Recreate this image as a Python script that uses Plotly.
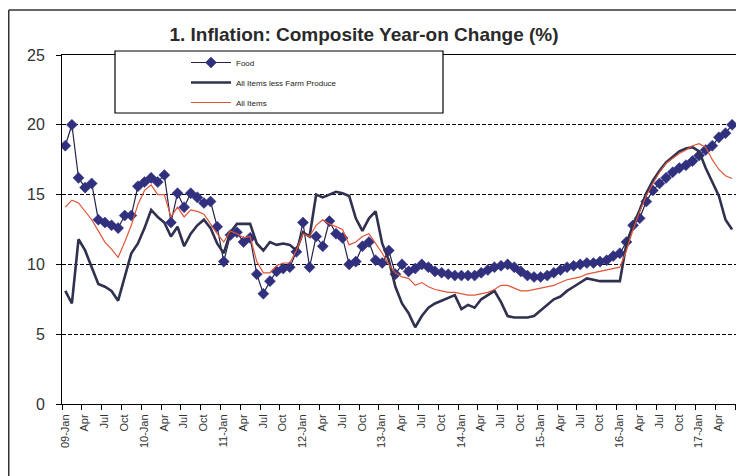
import plotly.graph_objects as go

# ---- data (Jan 2009 .. Jun 2017, monthly; axis runs to Jul 2017) ----
food = [18.5, 20.0, 16.2, 15.5, 15.8, 13.2, 13.0, 12.8, 12.6, 13.5, 13.5, 15.6,
        15.9, 16.2, 15.9, 16.4, 13.0, 15.1, 14.1, 15.1, 14.8, 14.4, 14.5, 12.7,
        10.2, 12.1, 12.3, 11.6, 11.9, 9.3, 7.9, 8.8, 9.5, 9.7, 9.8, 10.9,
        13.0, 9.8, 12.0, 11.3, 13.1, 12.2, 11.9, 10.0, 10.2, 11.3, 11.6, 10.3,
        10.1, 11.0, 9.3, 10.0, 9.5, 9.7, 10.0, 9.8, 9.5, 9.4, 9.3, 9.2,
        9.2, 9.2, 9.2, 9.4, 9.6, 9.8, 9.9, 10.0, 9.8, 9.5, 9.2, 9.1,
        9.1, 9.2, 9.4, 9.6, 9.8, 9.9, 10.0, 10.1, 10.1, 10.2, 10.3, 10.6,
        10.8, 11.6, 12.8, 13.3, 14.5, 15.3, 15.8, 16.2, 16.6, 16.9, 17.1, 17.4,
        17.8, 18.2, 18.5, 19.1, 19.4, 20.0]

less_farm = [8.1, 7.2, 11.8, 11.0, 9.8, 8.6, 8.4, 8.1, 7.4, 9.1, 10.8, 11.5,
             12.6, 13.9, 13.4, 13.0, 12.0, 12.7, 11.3, 12.2, 12.8, 13.2, 12.6, 11.5,
             10.8, 12.3, 12.9, 12.9, 12.9, 11.5, 11.0, 11.6, 11.4, 11.5, 11.4, 11.0,
             12.3, 12.0, 15.0, 14.8, 15.0, 15.2, 15.1, 14.9, 13.3, 12.4, 13.3, 13.8,
             11.5, 10.3, 8.4, 7.2, 6.5, 5.5, 6.3, 6.9, 7.2, 7.4, 7.6, 7.8,
             6.8, 7.1, 6.9, 7.5, 7.8, 8.1, 7.3, 6.3, 6.2, 6.2, 6.2, 6.3,
             6.7, 7.1, 7.5, 7.7, 8.1, 8.4, 8.7, 9.0, 8.9, 8.8, 8.8, 8.8,
             8.8, 11.5, 12.8, 13.9, 15.1, 16.0, 16.7, 17.3, 17.7, 18.1, 18.3, 18.4,
             18.1, 16.9, 15.9, 14.9, 13.2, 12.5]

all_items = [14.1, 14.6, 14.4, 13.8, 13.2, 12.4, 11.6, 11.1, 10.5, 11.6, 12.8, 14.3,
             15.3, 15.7, 15.0, 15.0, 13.4, 14.1, 13.4, 13.9, 13.8, 13.6, 12.9, 12.2,
             11.6, 12.4, 12.2, 11.9, 12.0, 10.2, 9.4, 9.4, 9.9, 10.1, 10.1, 11.0,
             12.2, 12.0, 12.8, 13.2, 12.9, 12.7, 12.5, 11.4, 11.6, 12.0, 12.2, 11.5,
             10.8, 10.0, 9.4, 9.1, 9.0, 8.5, 8.7, 8.4, 8.2, 8.1, 8.0, 8.0,
             7.9, 7.8, 7.8, 7.9, 8.0, 8.2, 8.5, 8.5, 8.3, 8.1, 8.1, 8.2,
             8.3, 8.4, 8.5, 8.7, 8.9, 9.0, 9.1, 9.3, 9.4, 9.5, 9.6, 9.7,
             9.8, 11.0, 12.5, 13.8, 14.9, 15.8, 16.6, 17.25, 17.6, 17.95, 18.2, 18.5,
             18.65, 18.4, 17.5, 16.8, 16.35, 16.15]

n_categories = 103  # Jan 2009 .. Jul 2017
tick_labels = ["09-Jan", "Apr", "Jul", "Oct", "10-Jan", "Apr", "Jul", "Oct",
               "11-Jan", "Apr", "Jul", "Oct", "12-Jan", "Apr", "Jul", "Oct",
               "13-Jan", "Apr", "Jul", "Oct", "14-Jan", "Apr", "Jul", "Oct",
               "15-Jan", "Apr", "Jul", "Oct", "16-Jan", "Apr", "Jul", "Oct",
               "17-Jan", "Apr", ""]
y_ticks = [0, 5, 10, 15, 20, 25]

# ---- layout geometry (figure pixels; page adds an 8px body margin) ----
W, H = 736, 468
L, R, T, B = 54, 734, 47, 396


def px(x):
    return (x - L) / (R - L)


def py(y):
    return (B - y) / (B - T)


FONT = "Liberation Sans, Arial, sans-serif"

idx = list(range(len(food)))
fig = go.Figure()
fig.add_trace(go.Scatter(
    x=idx, y=food, name="Food", mode="lines+markers", legendgroup="a",
    line=dict(color="#23234a", width=1.2),
    marker=dict(symbol="diamond", size=8.5, color="#30307e",
                line=dict(color="#30307e", width=0.5))))
fig.add_trace(go.Scatter(
    x=idx, y=less_farm, name="All Items less Farm Produce", mode="lines",
    legendgroup="b", line=dict(color="#30304f", width=2.6)))
fig.add_trace(go.Scatter(
    x=idx, y=all_items, name="All Items", mode="lines", legendgroup="c",
    line=dict(color="#e0553a", width=1.2)))

tick_pos = [k - 0.5 for k in range(0, n_categories, 3)]

fig.update_layout(
    width=W, height=H,
    margin=dict(l=L, r=W - R, t=T, b=H - B, pad=0),
    paper_bgcolor="white", plot_bgcolor="white",
    font=dict(family=FONT, color="#333333"),
    title=dict(text="<b>1. Inflation: Composite Year-on Change (%)</b>",
               x=356 / W, xanchor="center", y=1 - 26 / H, yanchor="middle",
               font=dict(family=FONT, size=19, color="#2a2a2a")),
    xaxis=dict(range=[-0.5, n_categories - 0.5], tickmode="array",
               tickvals=tick_pos, ticktext=tick_labels, tickangle=-90,
               ticklabelshift=3, ticks="outside", ticklen=5,
               tickcolor="black", tickfont=dict(size=11, color="#333333"),
               showline=True, linecolor="black", linewidth=1, mirror=True,
               showgrid=False, zeroline=False),
    yaxis=dict(range=[0, 25], tickmode="array", tickvals=y_ticks,
               ticks="outside", ticklen=5, tickcolor="black",
               tickfont=dict(size=16, color="#333333"), ticklabelstandoff=8,
               showline=True, linecolor="black", linewidth=1, mirror=True,
               showgrid=True, gridcolor="black", gridwidth=1,
               griddash="4px,2px", zeroline=False),
    legend=dict(x=px(178), y=py(40), xanchor="left", yanchor="top",
                bgcolor="rgba(0,0,0,0)", borderwidth=0,
                font=dict(family=FONT, size=8, color="#222222"),
                itemwidth=40, traceorder="grouped", tracegroupgap=1),
    showlegend=True,
    shapes=[
        # legend frame
        dict(type="rect", xref="paper", yref="paper",
             x0=px(107), x1=px(435), y0=py(105), y1=py(43),
             line=dict(color="black", width=1.2), fillcolor="white",
             layer="above"),
        # outer chart area frame (top and left edges)
        dict(type="line", xref="paper", yref="paper",
             x0=px(0.75), x1=px(740), y0=py(2), y1=py(2),
             line=dict(color="#333333", width=1.5)),
        dict(type="line", xref="paper", yref="paper",
             x0=px(0.75), x1=px(0.75), y0=py(2), y1=py(480),
             line=dict(color="#333333", width=1.5)),
    ],
)

fig.write_html("out.html")
